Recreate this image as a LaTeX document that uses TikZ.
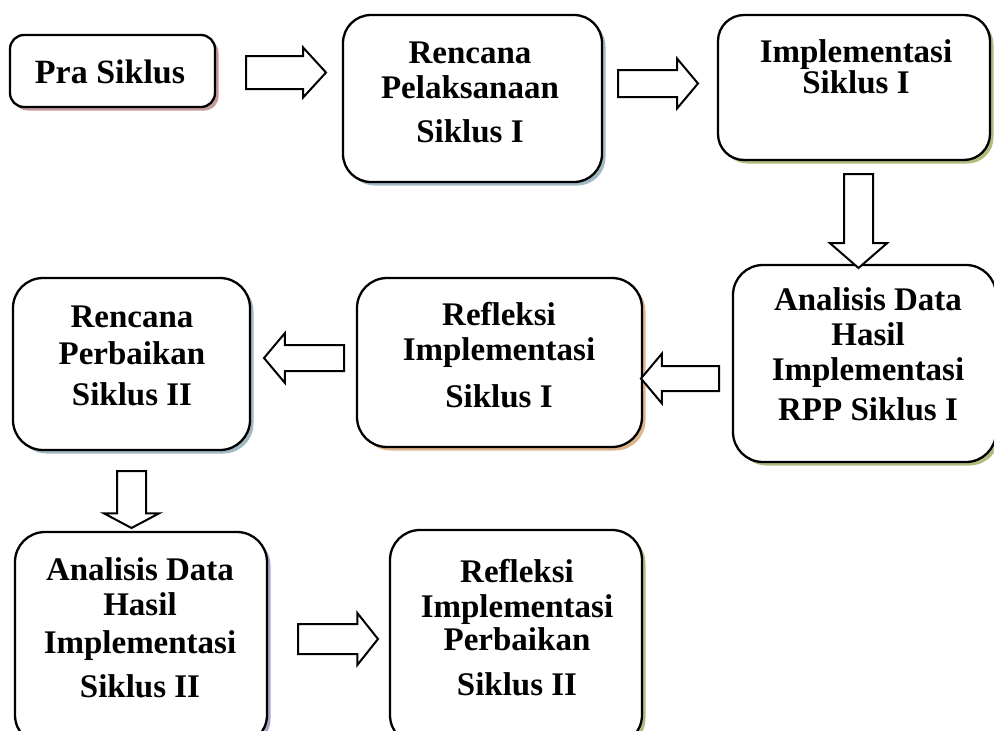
\documentclass[tikz,border=0pt]{standalone}
\usepackage{fontspec}
\setmainfont{Liberation Serif}
\usetikzlibrary{shadows,shapes.arrows}
\definecolor{shPink}{RGB}{196,154,154}
\definecolor{shBlue}{RGB}{160,185,195}
\definecolor{shOlive}{RGB}{175,188,125}
\definecolor{shTan}{RGB}{222,180,140}
\definecolor{shPurple}{RGB}{165,165,200}
\tikzset{
  box/.style={draw=black, line width=2.3pt, fill=white, inner sep=0pt},
  shad/.style={drop shadow={shadow xshift=3.5pt, shadow yshift=-3.5pt, fill=#1, opacity=1}},
  lbl/.style={anchor=base, align=center, inner sep=0pt,
    font=\fontsize{33}{35}\selectfont\bfseries},
  barrow/.style n args={3}{single arrow, draw=black, line width=2pt, fill=white,
    inner sep=0pt, minimum width=0pt, minimum height=#1, text height=#2, text depth=0pt,
    single arrow head extend=#3, anchor=tail},
}
\begin{document}
\begin{tikzpicture}[x=1pt,y=-1pt]
\useasboundingbox (0,0) rectangle (994,731);
% boxes
\node[box, shad=shPink, rounded corners=14pt, minimum width=205pt, minimum height=72pt] (b1) at (112.5,71) {};
\node[box, shad=shBlue, rounded corners=28pt, minimum width=259pt, minimum height=167pt] (b2) at (472.5,98.5) {};
\node[box, shad=shOlive, rounded corners=26pt, minimum width=272pt, minimum height=145pt] (b3) at (854,87.5) {};
\node[box, shad=shOlive, rounded corners=30pt, minimum width=263pt, minimum height=197pt] (b4) at (864.5,363.5) {};
\node[box, shad=shTan, rounded corners=30pt, minimum width=285pt, minimum height=169pt] (b5) at (499.5,362.5) {};
\node[box, shad=shBlue, rounded corners=30pt, minimum width=237pt, minimum height=172pt] (b6) at (131.5,364) {};
\node[box, shad=shPurple, rounded corners=30pt, minimum width=252pt, minimum height=213pt] (b7) at (141,638.5) {};
\node[box, shad=shOlive, rounded corners=30pt, minimum width=252pt, minimum height=215pt] (b8) at (516,637.5) {};
% texts (anchored at the baseline of the last line)
\node[lbl, font=\fontsize{34}{35}\selectfont\bfseries] (t1) at (110,83) {Pra Siklus};
\node[lbl] (t2) at (470,142) {Rencana\\Pelaksanaan\\[9pt]Siklus I};
\node[lbl] (t3) at (856,93) {Implementasi\\[-4pt]Siklus I};
\node[lbl] (t4) at (868,420) {Analisis Data\\Hasil\\Implementasi\\[5pt]RPP Siklus I};
\node[lbl] (t5) at (499,407) {Refleksi\\Implementasi\\[12pt]Siklus I};
\node[lbl] (t6) at (132,405) {Rencana\\[2pt]Perbaikan\\[6pt]Siklus II};
\node[lbl] (t7) at (140,697) {Analisis Data\\Hasil\\[3pt]Implementasi\\[9pt]Siklus II};
\node[lbl] (t8) at (517,695) {Refleksi\\Implementasi\\[-2pt]Perbaikan\\[10pt]Siklus II};
% block arrows (placed by their tails)
\node[barrow={80pt}{31pt}{8.5pt}, single arrow tip angle=95] (a1) at (245,72.5) {};
\node[barrow={80pt}{25pt}{11.5pt}, single arrow tip angle=100] (a2) at (617,83.5) {};
\node[barrow={94pt}{27pt}{14pt}, single arrow tip angle=98, rotate=-90] (a3) at (858.5,173) {};
\node[barrow={78pt}{23pt}{12.5pt}, single arrow tip angle=100, rotate=180] (a4) at (720,378.5) {};
\node[barrow={80pt}{24pt}{12pt}, single arrow tip angle=100, rotate=180] (a5) at (345,358) {};
\node[barrow={57pt}{27pt}{13pt}, single arrow tip angle=124, rotate=-90] (a6) at (131.5,470) {};
\node[barrow={80pt}{28pt}{11pt}, single arrow tip angle=103] (a7) at (297,639) {};
\end{tikzpicture}
\end{document}
